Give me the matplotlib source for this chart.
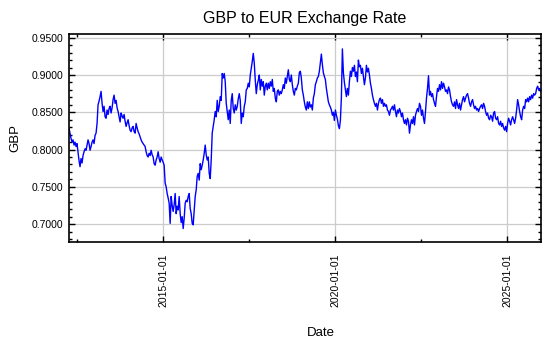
import numpy as np
import pandas as pd
import matplotlib
matplotlib.use("Agg")
import matplotlib.pyplot as plt
import matplotlib.dates as mdates
from matplotlib.ticker import MultipleLocator, FormatStrFormatter, FixedLocator

plt.rcParams['font.family'] = ['Liberation Sans', 'DejaVu Sans']

# GBP/EUR rate, roughly ten-day samples, split by period
rate_2012_2014 = [
    0.828, 0.822, 0.815, 0.810, 0.813, 0.806, 0.810, 0.804, 0.808, 0.797,
    0.785, 0.777, 0.788, 0.782, 0.792, 0.797, 0.801, 0.799, 0.806, 0.813,
    0.808, 0.799, 0.804, 0.810, 0.813, 0.808, 0.819, 0.822, 0.835, 0.860,
    0.865, 0.871, 0.878, 0.862, 0.851, 0.858, 0.844, 0.842, 0.853, 0.847,
    0.855, 0.858, 0.849, 0.856, 0.867, 0.873, 0.862, 0.866, 0.856, 0.851,
    0.844, 0.837, 0.849, 0.845, 0.842, 0.847, 0.838, 0.831, 0.836, 0.840,
    0.832, 0.826, 0.824, 0.829, 0.831, 0.824, 0.822, 0.835, 0.829, 0.824,
    0.821, 0.817, 0.813, 0.810, 0.808, 0.806, 0.804, 0.797, 0.792, 0.790,
    0.795, 0.792, 0.799, 0.793, 0.790, 0.781, 0.779, 0.786, 0.790, 0.797,
    0.788, 0.783, 0.790, 0.786, 0.783,
]
rate_2015_2017 = [
    0.779, 0.755, 0.750, 0.741, 0.735, 0.728, 0.701, 0.737, 0.725, 0.717,
    0.726, 0.741, 0.714, 0.724, 0.719, 0.737, 0.714, 0.702, 0.710, 0.694,
    0.708, 0.728, 0.732, 0.730, 0.737, 0.741, 0.721, 0.714, 0.701, 0.699,
    0.719, 0.737, 0.746, 0.764, 0.768, 0.759, 0.781, 0.773, 0.779, 0.786,
    0.795, 0.806, 0.793, 0.786, 0.790, 0.768, 0.761, 0.786, 0.822, 0.831,
    0.840, 0.851, 0.844, 0.866, 0.851, 0.858, 0.871, 0.866, 0.902, 0.896,
    0.902, 0.891, 0.862, 0.851, 0.840, 0.853, 0.835, 0.866, 0.875, 0.855,
    0.849, 0.860, 0.853, 0.858, 0.868, 0.875, 0.866, 0.835, 0.849, 0.844,
    0.858, 0.864, 0.880, 0.882, 0.889, 0.884, 0.900, 0.909, 0.918, 0.929,
    0.916, 0.893, 0.875, 0.887, 0.893,
]
rate_2017_2020 = [
    0.900, 0.880, 0.894, 0.885, 0.891, 0.873, 0.885, 0.889, 0.880, 0.889,
    0.882, 0.891, 0.885, 0.894, 0.878, 0.882, 0.869, 0.864, 0.878, 0.880,
    0.873, 0.878, 0.875, 0.880, 0.887, 0.882, 0.896, 0.889, 0.898, 0.907,
    0.894, 0.891, 0.900, 0.887, 0.878, 0.873, 0.882, 0.880, 0.885, 0.889,
    0.903, 0.905, 0.896, 0.880, 0.873, 0.864, 0.857, 0.853, 0.864, 0.855,
    0.864, 0.857, 0.860, 0.853, 0.869, 0.875, 0.887, 0.891, 0.896, 0.898,
    0.905, 0.916, 0.928, 0.914, 0.903, 0.898, 0.894, 0.882, 0.873, 0.864,
    0.860, 0.857, 0.853, 0.846, 0.850, 0.839, 0.853, 0.846, 0.841, 0.832,
    0.828, 0.839, 0.870, 0.935, 0.903, 0.890, 0.880, 0.871, 0.882, 0.873,
    0.891, 0.905, 0.898, 0.910, 0.905,
]
rate_2020_2023 = [
    0.913, 0.898, 0.904, 0.891, 0.920, 0.911, 0.913, 0.902, 0.909, 0.898,
    0.887, 0.896, 0.913, 0.904, 0.909, 0.900, 0.889, 0.882, 0.873, 0.867,
    0.862, 0.858, 0.862, 0.853, 0.862, 0.867, 0.869, 0.862, 0.867, 0.858,
    0.862, 0.858, 0.860, 0.853, 0.851, 0.846, 0.853, 0.855, 0.858, 0.853,
    0.860, 0.851, 0.844, 0.853, 0.849, 0.855, 0.851, 0.844, 0.849, 0.840,
    0.835, 0.840, 0.833, 0.842, 0.838, 0.822, 0.833, 0.840, 0.835, 0.844,
    0.833, 0.846, 0.851, 0.855, 0.851, 0.862, 0.858, 0.846, 0.853, 0.842,
    0.835, 0.851, 0.869, 0.882, 0.899, 0.873, 0.878, 0.871, 0.875, 0.867,
    0.862, 0.858, 0.871, 0.882, 0.878, 0.887, 0.880, 0.891, 0.882, 0.889,
    0.884, 0.878, 0.880, 0.875, 0.884,
]
rate_2023_2025 = [
    0.880, 0.871, 0.864, 0.860, 0.858, 0.864, 0.855, 0.867, 0.860, 0.855,
    0.862, 0.853, 0.860, 0.867, 0.871, 0.864, 0.869, 0.873, 0.875, 0.869,
    0.862, 0.858, 0.864, 0.867, 0.860, 0.855, 0.858, 0.853, 0.855, 0.851,
    0.855, 0.858, 0.860, 0.855, 0.862, 0.858, 0.851, 0.846, 0.849, 0.842,
    0.840, 0.846, 0.844, 0.838, 0.849, 0.851, 0.842, 0.840, 0.844, 0.835,
    0.833, 0.838, 0.831, 0.835, 0.829, 0.826, 0.831, 0.824, 0.835, 0.842,
    0.838, 0.833, 0.840, 0.844, 0.840, 0.835, 0.842, 0.853, 0.867, 0.860,
    0.851, 0.844, 0.840, 0.853, 0.858, 0.855, 0.867, 0.864, 0.869, 0.864,
    0.871, 0.867, 0.873, 0.869, 0.875, 0.873, 0.875, 0.882, 0.885, 0.880,
    0.882, 0.878,
]

start_date = '2012-04-05'
end_date = '2025-12-20'

rates = np.concatenate([rate_2012_2014, rate_2015_2017, rate_2017_2020,
                        rate_2020_2023, rate_2023_2025])
dates = pd.date_range(start_date, end_date, periods=len(rates))

fig = plt.figure(figsize=(5.5, 3.5), dpi=100)
ax = fig.add_axes([0.1255, 0.3086, 0.8575, 0.5943])

ax.plot(dates, rates, color='#0000ff', lw=1.0)

ax.set_xlim(dates[0], dates[-1])
ax.set_ylim(0.676, 0.955)

ax.xaxis.set_major_locator(mdates.YearLocator(5))
ax.xaxis.set_major_formatter(mdates.DateFormatter('%Y-%m-%d'))
half_years = pd.to_datetime(['2012-07-01', '2017-07-01', '2022-07-01'])
ax.xaxis.set_minor_locator(FixedLocator(mdates.date2num(half_years)))
ax.yaxis.set_major_locator(MultipleLocator(0.05))
ax.yaxis.set_minor_locator(MultipleLocator(0.01))
ax.yaxis.set_major_formatter(FormatStrFormatter('%.4f'))

ax.grid(which='major', color='#cccccc', lw=0.9)
ax.set_axisbelow(True)

ax.tick_params(which='both', direction='in', top=True, right=True,
               width=1, labelsize=7.5)
ax.tick_params(which='major', length=4.5)
ax.tick_params(which='minor', length=2)
ax.tick_params(axis='x', pad=8, labelrotation=90)
ax.tick_params(axis='y', pad=4)
for s in ax.spines.values():
    s.set_linewidth(1.2)

ax.set_title('GBP to EUR Exchange Rate', fontsize=11.5, pad=8)
ax.set_ylabel('GBP', fontsize=9.5)
ax.set_xlabel('Date', fontsize=9.5)
ax.yaxis.set_label_coords(-0.10, 0.5)
ax.xaxis.set_label_coords(0.534, -0.41)

fig.savefig('out.png', dpi=100)
